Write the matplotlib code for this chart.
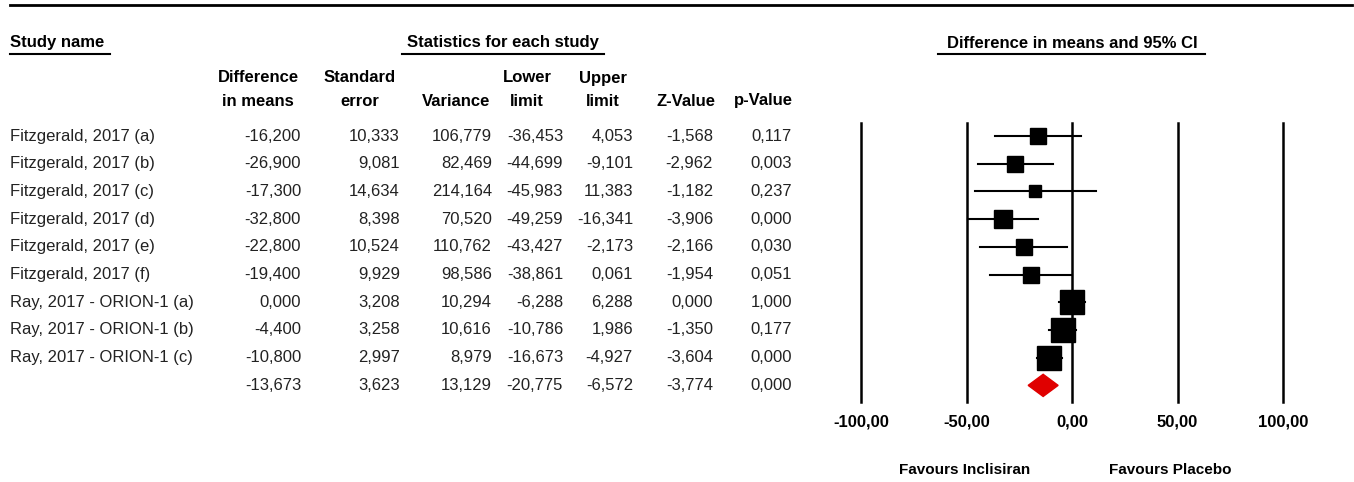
import matplotlib.pyplot as plt
import matplotlib.transforms as mtransforms
import numpy as np
from matplotlib.lines import Line2D

# 数据
studies = [
    "Fitzgerald, 2017 (a)",
    "Fitzgerald, 2017 (b)",
    "Fitzgerald, 2017 (c)",
    "Fitzgerald, 2017 (d)",
    "Fitzgerald, 2017 (e)",
    "Fitzgerald, 2017 (f)",
    "Ray, 2017 - ORION-1 (a)",
    "Ray, 2017 - ORION-1 (b)",
    "Ray, 2017 - ORION-1 (c)",
]
diff = [-16.200, -26.900, -17.300, -32.800, -22.800, -19.400, 0.000, -4.400, -10.800]
se = [10.333, 9.081, 14.634, 8.398, 10.524, 9.929, 3.208, 3.258, 2.997]
variance = [106.779, 82.469, 214.164, 70.520, 110.762, 98.586, 10.294, 10.616, 8.979]
lower = [-36.453, -44.699, -45.983, -49.259, -43.427, -38.861, -6.288, -10.786, -16.673]
upper = [4.053, -9.101, 11.383, -16.341, -2.173, 0.061, 6.288, 1.986, -4.927]
zval = [-1.568, -2.962, -1.182, -3.906, -2.166, -1.954, 0.000, -1.350, -3.604]
pval = [0.117, 0.003, 0.237, 0.000, 0.030, 0.051, 1.000, 0.177, 0.000]

# 合并效应
pooled = {"diff": -13.673, "se": 3.623, "var": 13.129, "lower": -20.775,
          "upper": -6.572, "z": -3.774, "p": 0.000}

ticks = [-100, -50, 0, 50, 100]

W, H = 1354, 482


def fx(px):
    return px / W


def fy(py):
    return 1 - py / H


def fmt(v):
    return f"{v:.3f}".replace(".", ",")


plt.rcParams["font.family"] = ["Liberation Sans", "DejaVu Sans"]
fig = plt.figure(figsize=(W / 100, H / 100), dpi=100)

# 森林图坐标轴
ax = fig.add_axes([fx(861), fy(402), fx(1283) - fx(861), (402 - 123) / H])
ax.set_xlim(-100, 100)
n = len(studies)
ax.set_ylim(9.6, -0.47)
for s in ax.spines.values():
    s.set_visible(False)
ax.set_yticks([])
ax.set_xticks(ticks)
ax.set_xticklabels([f"{t:.2f}".replace(".", ",") for t in ticks],
                   fontsize=12, fontweight="bold")
ax.tick_params(axis="x", length=0, pad=9)
for t in ticks:
    ax.axvline(t, color="black", lw=1.8, zorder=1, clip_on=False)

# 方块大小按权重（随机效应近似）
tau2 = 58.0
wts = 1 / (np.array(variance) + tau2)
sizes = 24 * np.sqrt(wts / wts.max()) * 0.72
for i in range(n):
    ax.plot([lower[i], upper[i]], [i, i], color="black", lw=1.5, zorder=2)
    ax.plot(diff[i], i, marker="s", color="black", markersize=sizes[i], zorder=3)

# 合并菱形
yd = n
ax.fill([pooled["lower"], pooled["diff"], pooled["upper"], pooled["diff"]],
        [yd, yd - 0.4, yd, yd + 0.4], color="#e00000", zorder=3)

# 表格文字
tr = mtransforms.blended_transform_factory(fig.transFigure, ax.transData)
col_right = [301, 400, 492, 563, 633, 713, 792]
tcol = "#222222"
fs = 12
for i in range(n):
    ax.text(fx(10), i, studies[i], transform=tr, ha="left", va="center",
            fontsize=fs, color=tcol, clip_on=False)
    vals = [diff[i], se[i], variance[i], lower[i], upper[i], zval[i], pval[i]]
    for xr, v in zip(col_right, vals):
        ax.text(fx(xr), i, fmt(v), transform=tr, ha="right", va="center",
                fontsize=fs, color=tcol, clip_on=False)
pvals = [pooled["diff"], pooled["se"], pooled["var"], pooled["lower"],
         pooled["upper"], pooled["z"], pooled["p"]]
for xr, v in zip(col_right, pvals):
    ax.text(fx(xr), n, fmt(v), transform=tr, ha="right", va="center",
            fontsize=fs, color=tcol, clip_on=False)

# 表头
hdr = dict(fontsize=12, fontweight="bold", color="black")
fig.text(fx(10), fy(43), "Study name", ha="left", va="center", **hdr)
fig.text(fx(503), fy(43), "Statistics for each study", ha="center", va="center", **hdr)
fig.text(fx(1072), fy(43), "Difference in means and 95% CI", ha="center", va="center", **hdr)

col_heads = [
    (258, "Difference", "in means"),
    (360, "Standard", "error"),
    (456, "", "Variance"),
    (527, "Lower", "limit"),
    (603, "Upper", "limit"),
    (686, "", "Z-Value"),
    (763, "", "p-Value"),
]
for xc, l1, l2 in col_heads:
    if l1:
        fig.text(fx(xc), fy(78), l1, ha="center", va="center", **hdr)
    fig.text(fx(xc), fy(101), l2, ha="center", va="center", **hdr)

# 下划线和顶部线
lines = [
    ((10, 1352), 5, 2.0),
    ((10, 110), 54, 1.5),
    ((402, 604), 54, 1.5),
    ((938, 1205), 54, 1.5),
]
for (x0, x1), y, lw in lines:
    fig.add_artist(Line2D([fx(x0), fx(x1)], [fy(y), fy(y)], color="black", lw=lw,
                          transform=fig.transFigure))

fig.text(fx(965), fy(470), "Favours Inclisiran", ha="center", va="center",
         fontsize=11, fontweight="bold")
fig.text(fx(1170), fy(470), "Favours Placebo", ha="center", va="center",
         fontsize=11, fontweight="bold")

fig.savefig("out.png", dpi=100)
